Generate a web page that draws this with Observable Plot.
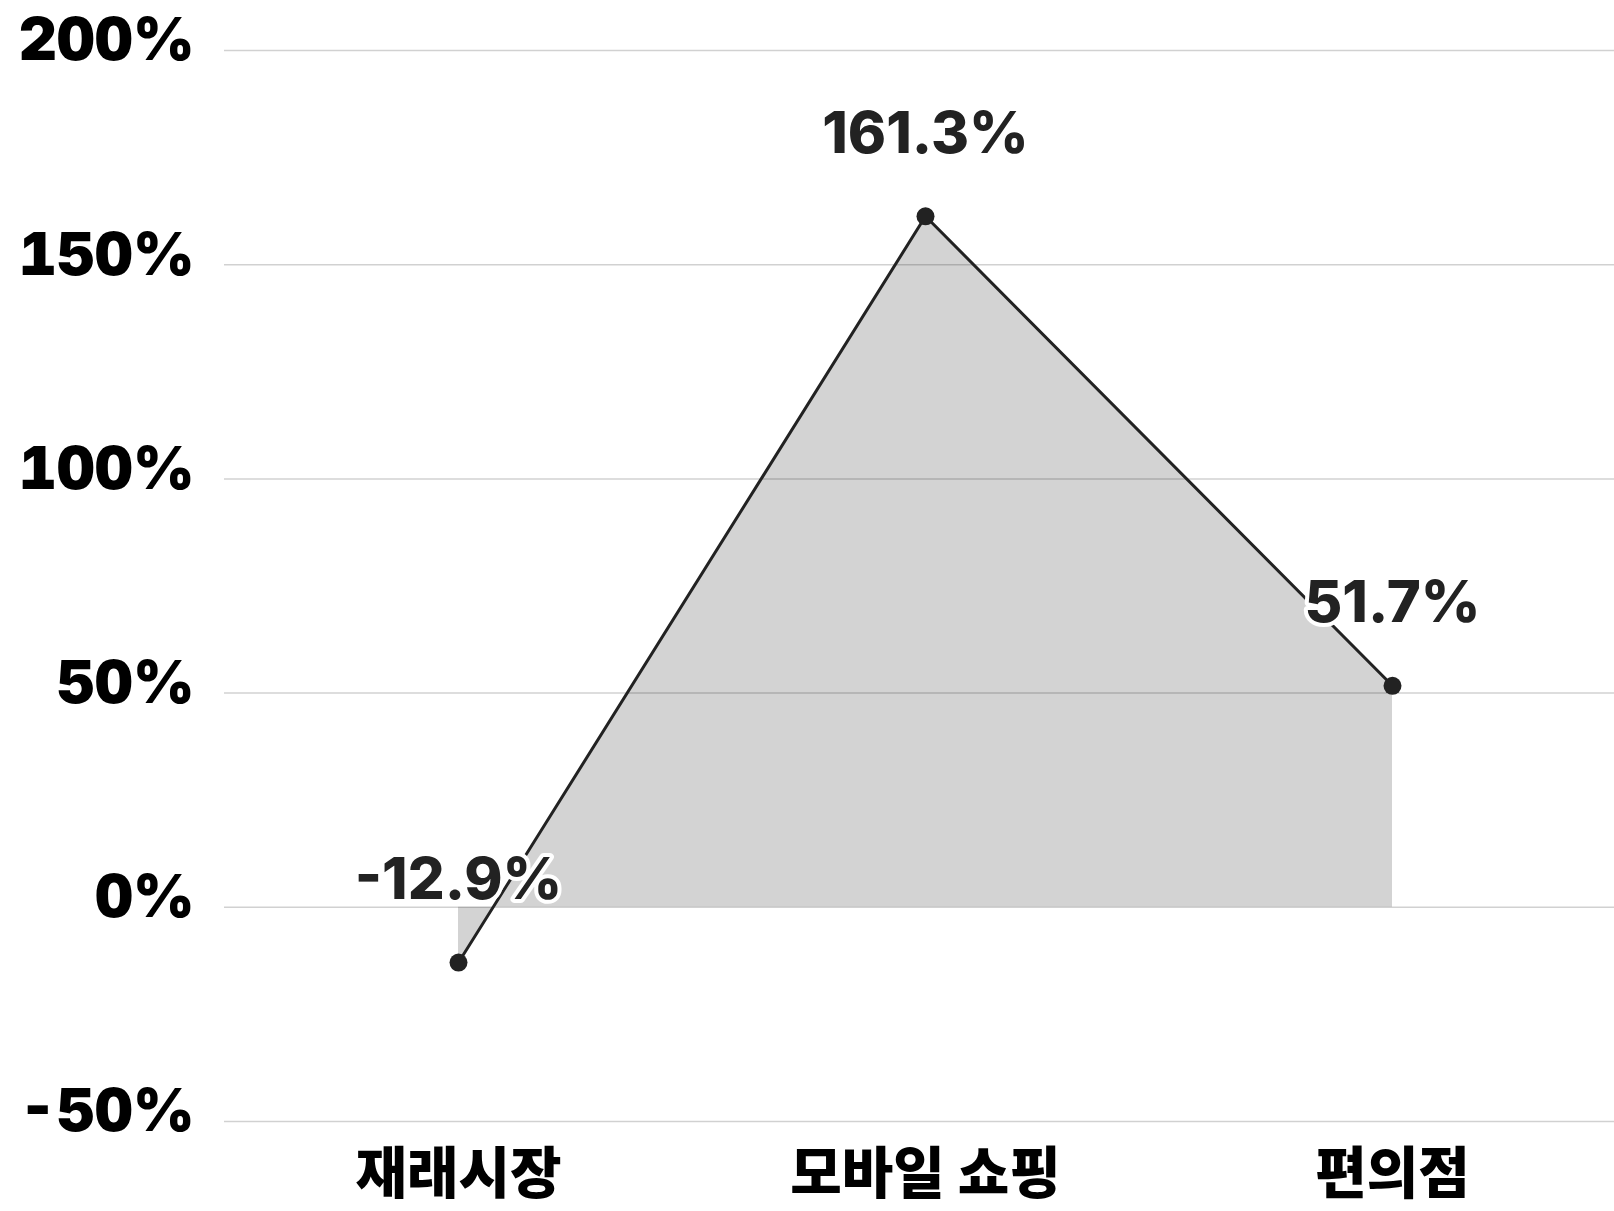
<!DOCTYPE html>
<html>
<head>
<meta charset="utf-8">
<script src="https://cdn.jsdelivr.net/npm/d3@7"></script>
<script src="https://cdn.jsdelivr.net/npm/@observablehq/plot@0.6"></script>
<style>
  html, body { margin: 0; padding: 0; background: #fff; }
  #chart svg { display: block; overflow: visible; }
</style>
</head>
<body>
<div id="chart"></div>
<script>
const categories = ["재래시장", "모바일 쇼핑", "편의점"];
const values = [-12.9, 161.3, 51.7];
const yTicks = [-50, 0, 50, 100, 150, 200];

const data = categories.map((c, i) => ({cat: c, value: values[i]}));

const chart = Plot.plot({
  width: 1614,
  height: 1211,
  marginTop: 50,
  marginBottom: 90,
  marginLeft: 224,
  marginRight: 0,
  style: {fontFamily: "Inter, 'Noto Sans CJK KR', sans-serif", background: "#fff"},
  x: {type: "point", domain: categories, range: [224, 1626], padding: 0.5},
  y: {domain: [-50, 200]},
  marks: [
    Plot.areaY(data, {x: "cat", y: "value", fill: "#d3d3d3"}),
    Plot.ruleY(yTicks, {stroke: "#000", strokeOpacity: 0.18, strokeWidth: 1.5}),
    Plot.lineY(data, {x: "cat", y: "value", stroke: "#222", strokeWidth: 3}),
    Plot.dot(data, {x: "cat", y: "value", r: 9, fill: "#222"}),
    Plot.text(data, {
      x: "cat", y: "value",
      text: d => d.value.toFixed(1) + "%",
      dy: -82, fontSize: 58, fontWeight: 800, fill: "#222",
      stroke: "white", strokeWidth: 8, fontFamily: "Inter"
    }),
    Plot.axisY(yTicks, {
      tickSize: 0, tickPadding: 30, tickFormat: d => d + "%",
      fontSize: 59, fontWeight: 900, fill: "#000", fontFamily: "Inter", dy: -9, label: null
    }),
    Plot.axisX({
      tickSize: 0, tickPadding: 32, fontSize: 56, fontWeight: 900, fill: "#000",
      fontFamily: "'Noto Sans CJK KR'", label: null
    })
  ]
});
document.getElementById("chart").appendChild(chart);
</script>
</body>
</html>
